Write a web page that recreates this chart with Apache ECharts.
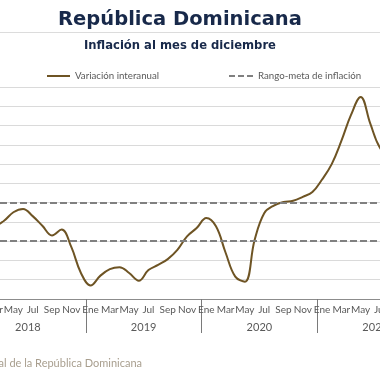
<!DOCTYPE html>
<html>
<head>
<meta charset="utf-8">
<script src="https://cdn.jsdelivr.net/npm/echarts@6/dist/echarts.min.js"></script>
<style>html,body{margin:0;padding:0;background:#fff;}#c{width:380px;height:380px;}</style>
</head>
<body>
<div id="c"></div>
<script>
const years = ['2018', '2019', '2020', '2021'];
const monthNames = ['Ene','Feb','Mar','Abr','May','Jun','Jul','Ago','Sep','Oct','Nov','Dic'];
const inflation2018 = [4.0, 3.85, 3.8, 4.05, 4.5, 4.67, 4.3, 3.8, 3.3, 3.6, 2.7, 1.35];
const inflation2019 = [0.7, 1.2, 1.55, 1.65, 1.35, 0.95, 1.5, 1.77, 2.07, 2.55, 3.25, 3.68];
const inflation2020 = [4.2, 3.77, 2.4, 1.16, 0.9, 3.05, 4.45, 4.85, 5.03, 5.1, 5.3, 5.55];
const inflation2021 = [6.2, 7.0, 8.2, 9.55, 10.48, 9.1, 7.85, 7.45, 7.6, 7.7, 8.1, 8.5];
const targetRange = [3, 5];
const yMin = 0, yMax = 11, yStep = 1;

const months = [];
years.forEach(() => monthNames.forEach(m => months.push(m)));
const inflation = [].concat(inflation2018, inflation2019, inflation2020, inflation2021);

const FONT = 'Lato, "Open Sans", sans-serif';
const TFONT = '"DejaVu Sans", sans-serif';
const chart = echarts.init(document.getElementById('c'), null, {renderer: 'canvas'});
chart.setOption({
  animation: false,
  backgroundColor: '#ffffff',
  graphic: [
    {type: 'text', x: 180, y: 19.5, style: {text: 'República Dominicana', fill: '#18294a', font: 'bold 19.5px ' + TFONT, textAlign: 'center', textVerticalAlign: 'middle'}},
    {type: 'rect', shape: {x: 0, y: 32, width: 380, height: 1}, style: {fill: '#dcdcdc'}},
    {type: 'text', x: 180, y: 46, style: {text: 'Inflación al mes de diciembre', fill: '#18294a', font: 'bold 11.6px ' + TFONT, textAlign: 'center', textVerticalAlign: 'middle'}},
    {type: 'text', x: 142, y: 358, style: {text: 'Fuente: Banco Central de la República Dominicana', fill: '#a89e8e', font: '11px ' + FONT, textAlign: 'right'}}
  ],
  legend: [
    {left: 47, top: 71, padding: 0, itemWidth: 23, itemHeight: 2, itemGap: 0, data: [{name: 'Variación interanual', icon: 'rect'}],
     textStyle: {color: '#595959', fontSize: 9.7, fontFamily: FONT}},
    {left: 229, top: 71, padding: 0, itemWidth: 24, itemHeight: 2, itemGap: 0,
     data: [{name: 'Rango-meta de inflación', icon: 'path://M0,0h6v2h-6zM9,0h6v2h-6zM18,0h6v2h-6z'}],
     textStyle: {color: '#595959', fontSize: 9.7, fontFamily: FONT}}
  ],
  grid: {left: -30, right: -53, top: 87, bottom: 81, containLabel: false, outerBoundsMode: 'none'},
  xAxis: [
    {type: 'category', data: months, boundaryGap: true,
     axisLine: {lineStyle: {color: '#8c8c8c', width: 1}},
     axisTick: {show: false},
     axisLabel: {interval: 1, margin: 6, color: '#595959', fontSize: 10, fontFamily: FONT, hideOverlap: false}},
    {type: 'category', data: years, position: 'bottom', boundaryGap: true,
     axisLine: {show: false},
     axisTick: {show: true, length: 34, lineStyle: {color: '#7a7a7a', width: 1}},
     axisLabel: {margin: 23, color: '#595959', fontSize: 11, fontFamily: FONT}}
  ],
  yAxis: {type: 'value', min: yMin, max: yMax, interval: yStep,
    axisLabel: {show: false}, axisLine: {show: false}, axisTick: {show: false},
    splitLine: {lineStyle: {color: '#dadada', width: 1}}},
  series: [
    {name: 'Rango-meta de inflación', type: 'line', data: [], symbol: 'none',
     lineStyle: {color: '#808080', width: 2, type: [7, 3]}, itemStyle: {color: '#808080'},
     markLine: {silent: true, symbol: 'none', label: {show: false},
       lineStyle: {color: '#808080', width: 2, type: [7, 3]},
       data: targetRange.map(v => ({yAxis: v}))}},
    {name: 'Variación interanual', type: 'line', data: inflation, smooth: 0.4, symbol: 'none',
     lineStyle: {color: '#6e5424', width: 2}, itemStyle: {color: '#6e5424'}, z: 3}
  ]
});
</script>
</body>
</html>
